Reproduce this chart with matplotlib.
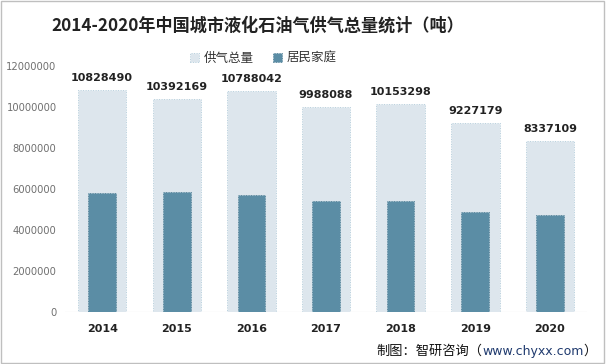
import matplotlib
matplotlib.use("Agg")
import matplotlib.pyplot as plt
import numpy as np

plt.rcParams['font.family'] = ['Noto Sans CJK SC', 'DejaVu Sans']

years = ['2014', '2015', '2016', '2017', '2018', '2019', '2020']
total = [10828490, 10392169, 10788042, 9988088, 10153298, 9227179, 8337109]
resident = [5790000, 5840000, 5710000, 5400000, 5400000, 4860000, 4720000]
yticks = [0, 2000000, 4000000, 6000000, 8000000, 10000000, 12000000]

fig = plt.figure(figsize=(6.06, 3.64), dpi=100)
ax = fig.add_axes([0.107, 0.143, 0.862, 0.676])
x = np.arange(len(years))
b1 = ax.bar(x, total, width=0.65, color='#DDE6ED', edgecolor='#A9C6D6',
            linewidth=0.6, linestyle=(0, (1, 2)), label='供气总量', zorder=2)
b2 = ax.bar(x, resident, width=0.37, color='#5B8DA5', edgecolor='#4C7A91',
            linewidth=0.6, linestyle=(0, (1, 2)), label='居民家庭', zorder=3)
for xi, v in zip(x, total):
    ax.text(xi, v + 350000, str(v), ha='center', va='bottom', fontsize=8,
            fontweight='bold', color='#222222', family='DejaVu Sans')

ax.set_xlim(-0.5, len(years) - 0.5)
ax.set_ylim(0, 12000000)
ax.set_yticks(yticks)
ax.set_yticklabels([str(t) for t in yticks], fontsize=7.2, color='#707070', family='DejaVu Sans')
ax.set_xticks(x)
ax.set_xticklabels(years, fontsize=8, fontweight='bold', color='#222222', family='DejaVu Sans')
ax.tick_params(axis='x', length=0, pad=9)
ax.tick_params(axis='y', length=0, pad=6)
for s in ax.spines.values():
    s.set_visible(False)
ax.axhline(0, color='#D9D9D9', linewidth=0.8, zorder=1)

fig.text(0.425, 0.93, '2014-2020年中国城市液化石油气供气总量统计（吨）', ha='center', va='center',
         fontsize=12.3, fontweight='bold', color='#222222')
leg = fig.legend(handles=[b1, b2], loc='center', bbox_to_anchor=(0.435, 0.84), ncol=2,
                 frameon=False, fontsize=9, handlelength=0.7, handleheight=0.7,
                 handletextpad=0.4, columnspacing=1.5)
for t in leg.get_texts():
    t.set_color('#333333')

t1 = fig.text(0.985, 0.035, '）', ha='right', va='center', fontsize=9.5, color='#111111')
fig.canvas.draw()
r = fig.canvas.get_renderer()
bb = t1.get_window_extent(r)
t2 = fig.text(bb.x0 / fig.bbox.width, 0.035, 'www.chyxx.com', ha='right', va='center',
              fontsize=9, color='#1F3A6E', family='DejaVu Sans')
bb2 = t2.get_window_extent(r)
fig.text(bb2.x0 / fig.bbox.width, 0.035, '制图：智研咨询（', ha='right', va='center',
         fontsize=9.5, color='#111111')

border = plt.Rectangle((0.002, 0.003), 0.995, 0.994, transform=fig.transFigure,
                       fill=False, edgecolor='#BFBFBF', linewidth=1)
fig.patches.append(border)

fig.savefig('out.png', dpi=100)
